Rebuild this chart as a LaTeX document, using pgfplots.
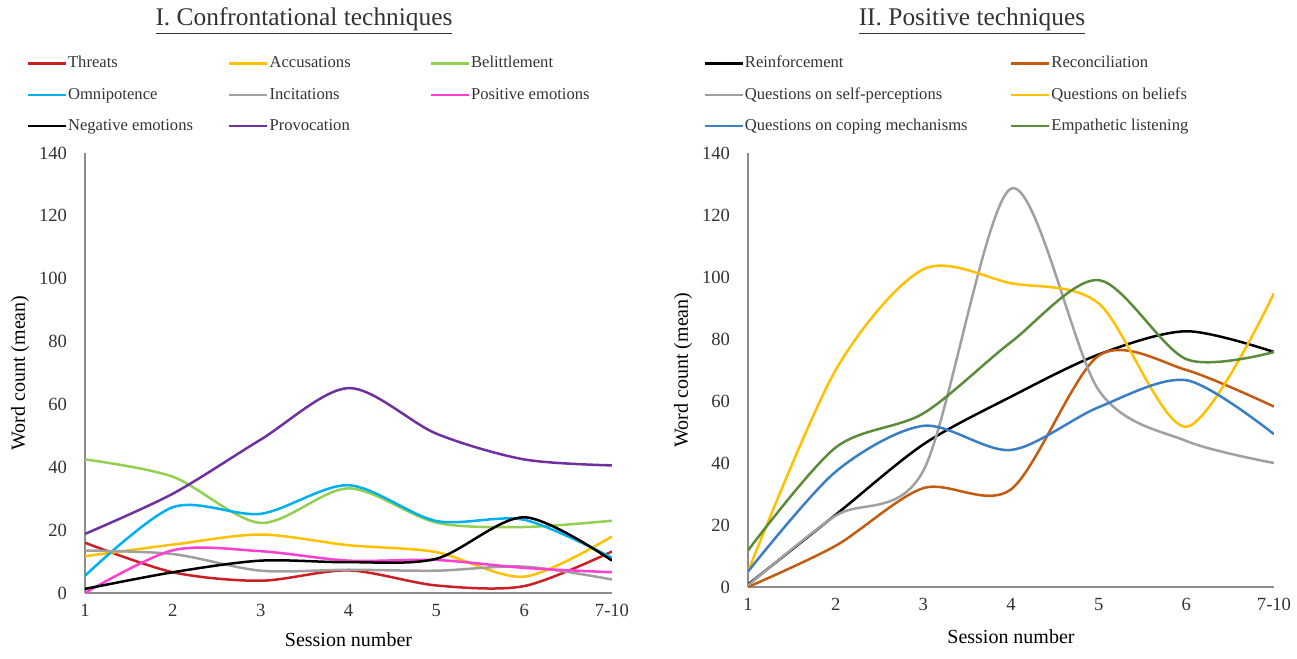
\documentclass[border=0pt]{standalone}
\usepackage{pgfplots}
\pgfplotsset{compat=1.18}
\usepackage{fontspec}
\setmainfont{Liberation Serif}

\definecolor{cThreat}{HTML}{CC1F24}
\definecolor{cAccus}{HTML}{FFC000}
\definecolor{cBelit}{HTML}{92D050}
\definecolor{cOmni}{HTML}{00B0F0}
\definecolor{cIncit}{HTML}{A0A0A0}
\definecolor{cPosEm}{HTML}{FF3FD2}
\definecolor{cNegEm}{HTML}{000000}
\definecolor{cProv}{HTML}{7030A0}
\definecolor{cReinf}{HTML}{000000}
\definecolor{cRecon}{HTML}{C55A11}
\definecolor{cSelf}{HTML}{A0A0A0}
\definecolor{cBelief}{HTML}{FFC000}
\definecolor{cCoping}{HTML}{3A7EC6}
\definecolor{cEmpat}{HTML}{5B8C3A}
\definecolor{axisgray}{HTML}{8C8C8C}
\definecolor{txt}{HTML}{333333}

\pgfplotsset{
  common/.style={
    scale only axis,
    anchor=south west,
    xmin=1, xmax=7, ymin=0, ymax=140,
    axis x line*=bottom, axis y line*=left,
    axis line style={axisgray, line width=0.75pt, -},
    major tick length=0pt,
    xtick={1,...,7},
    xticklabels={1,2,3,4,5,6,7-10},
    ytick={0,20,...,140},
    /pgf/number format/assume math mode=true,
    tick label style={font=\fontsize{9.3}{11}\selectfont, text=txt},
    xticklabel style={yshift=-2pt},
    yticklabel style={xshift=-5.5pt},
    label style={font=\fontsize{10}{12}\selectfont, text=txt},
    xlabel={Session number},
    ylabel={Word count (mean)},
    legend columns=3,
    legend cell align=left,
    legend image code/.code={\draw[##1, line width=1.25pt] (0pt,0pt) -- (19pt,0pt);},
    every axis plot/.append style={smooth, line width=1.25pt, no markers},
  }
}

\begin{document}
\begin{tikzpicture}
\useasboundingbox (0,0) rectangle (648.5pt,329.5pt);

\node[font=\fontsize{12.7}{15}\selectfont, text=txt] at (152pt,319pt) {\underline{I. Confrontational techniques}};
\node[font=\fontsize{12.7}{15}\selectfont, text=txt] at (486pt,319pt) {\underline{II. Positive techniques}};

\begin{axis}[common,
  at={(42.5pt,33pt)}, width=263.5pt, height=220pt,
  every axis x label/.style={at={(axis description cs:0.5,-0.107)}, anchor=center},
  every axis y label/.style={at={(axis description cs:-0.1233,0.5)}, rotate=90, anchor=center},
  legend style={draw=none, fill=none, at={(-0.123,1.2313)}, anchor=north west,
    column sep=0.5pt, row sep=7.9pt, font=\fontsize{8.3}{9}\selectfont, text=txt,
    nodes={inner sep=0pt, text height=6pt, text depth=1.8pt}},
]
\addplot[cThreat] coordinates {(1,16) (2,6.6) (3,3.9) (4,7.2) (5,2.4) (6,2.2) (7,13.2)};
\addlegendentry{\makebox[79.5pt][l]{Threats}}
\addplot[cAccus] coordinates {(1,11.7) (2,15.4) (3,18.6) (4,15.2) (5,13) (6,5.2) (7,18)};
\addlegendentry{\makebox[79.5pt][l]{Accusations}}
\addplot[cBelit] coordinates {(1,42.5) (2,37) (3,22.3) (4,33.3) (5,22.4) (6,21) (7,23)};
\addlegendentry{\makebox[79.5pt][l]{Belittlement}}
\addplot[cOmni] coordinates {(1,5.5) (2,27.3) (3,25.2) (4,34.3) (5,22.9) (6,23.3) (7,11.2)};
\addlegendentry{\makebox[79.5pt][l]{Omnipotence}}
\addplot[cIncit] coordinates {(1,13.5) (2,12.4) (3,7.1) (4,7.4) (5,7.1) (6,8.4) (7,4.3)};
\addlegendentry{\makebox[79.5pt][l]{Incitations}}
\addplot[cPosEm] coordinates {(1,0) (2,13.6) (3,13.3) (4,10.3) (5,10.5) (6,8) (7,6.6)};
\addlegendentry{\makebox[79.5pt][l]{Positive emotions}}
\addplot[cNegEm] coordinates {(1,1.3) (2,6.6) (3,10.3) (4,9.8) (5,10.9) (6,24.1) (7,10.3)};
\addlegendentry{\makebox[79.5pt][l]{Negative emotions}}
\addplot[cProv] coordinates {(1,18.8) (2,31.6) (3,48.8) (4,65.2) (5,50.7) (6,42.5) (7,40.6)};
\addlegendentry{\makebox[79.5pt][l]{Provocation}}
\end{axis}

\begin{axis}[common,
  at={(374pt,36pt)}, width=263pt, height=217pt,
  every axis x label/.style={at={(axis description cs:0.5,-0.115)}, anchor=center},
  every axis y label/.style={at={(axis description cs:-0.1236,0.5)}, rotate=90, anchor=center},
  legend columns=2,
  legend style={draw=none, fill=none, at={(-0.0969,1.2345)}, anchor=north west,
    column sep=0.5pt, row sep=7.9pt, font=\fontsize{8.3}{9}\selectfont, text=txt,
    nodes={inner sep=0pt, text height=6pt, text depth=1.8pt}},
]
\addplot[cReinf] coordinates {(1,0.8) (2,23.3) (3,46) (4,61.4) (5,75) (6,82.5) (7,75.8)};
\addlegendentry{\makebox[132pt][l]{Reinforcement}}
\addplot[cRecon] coordinates {(1,0) (2,13.3) (3,31.9) (4,31.5) (5,74.6) (6,70) (7,58.2)};
\addlegendentry{\makebox[132pt][l]{Reconciliation}}
\addplot[cSelf] coordinates {(1,0.5) (2,23) (3,37.5) (4,128.5) (5,63.5) (6,47.1) (7,40)};
\addlegendentry{\makebox[132pt][l]{Questions on self-perceptions}}
\addplot[cBelief] coordinates {(1,5) (2,70) (3,102.5) (4,98) (5,91.5) (6,51.7) (7,94.8)};
\addlegendentry{\makebox[132pt][l]{Questions on beliefs}}
\addplot[cCoping] coordinates {(1,5) (2,37.2) (3,52) (4,44.2) (5,58) (6,66.7) (7,49.3)};
\addlegendentry{\makebox[132pt][l]{Questions on coping mechanisms}}
\addplot[cEmpat] coordinates {(1,11.8) (2,45) (3,56) (4,79) (5,99) (6,73.5) (7,75.8)};
\addlegendentry{\makebox[132pt][l]{Empathetic listening}}
\end{axis}
\end{tikzpicture}
\end{document}
